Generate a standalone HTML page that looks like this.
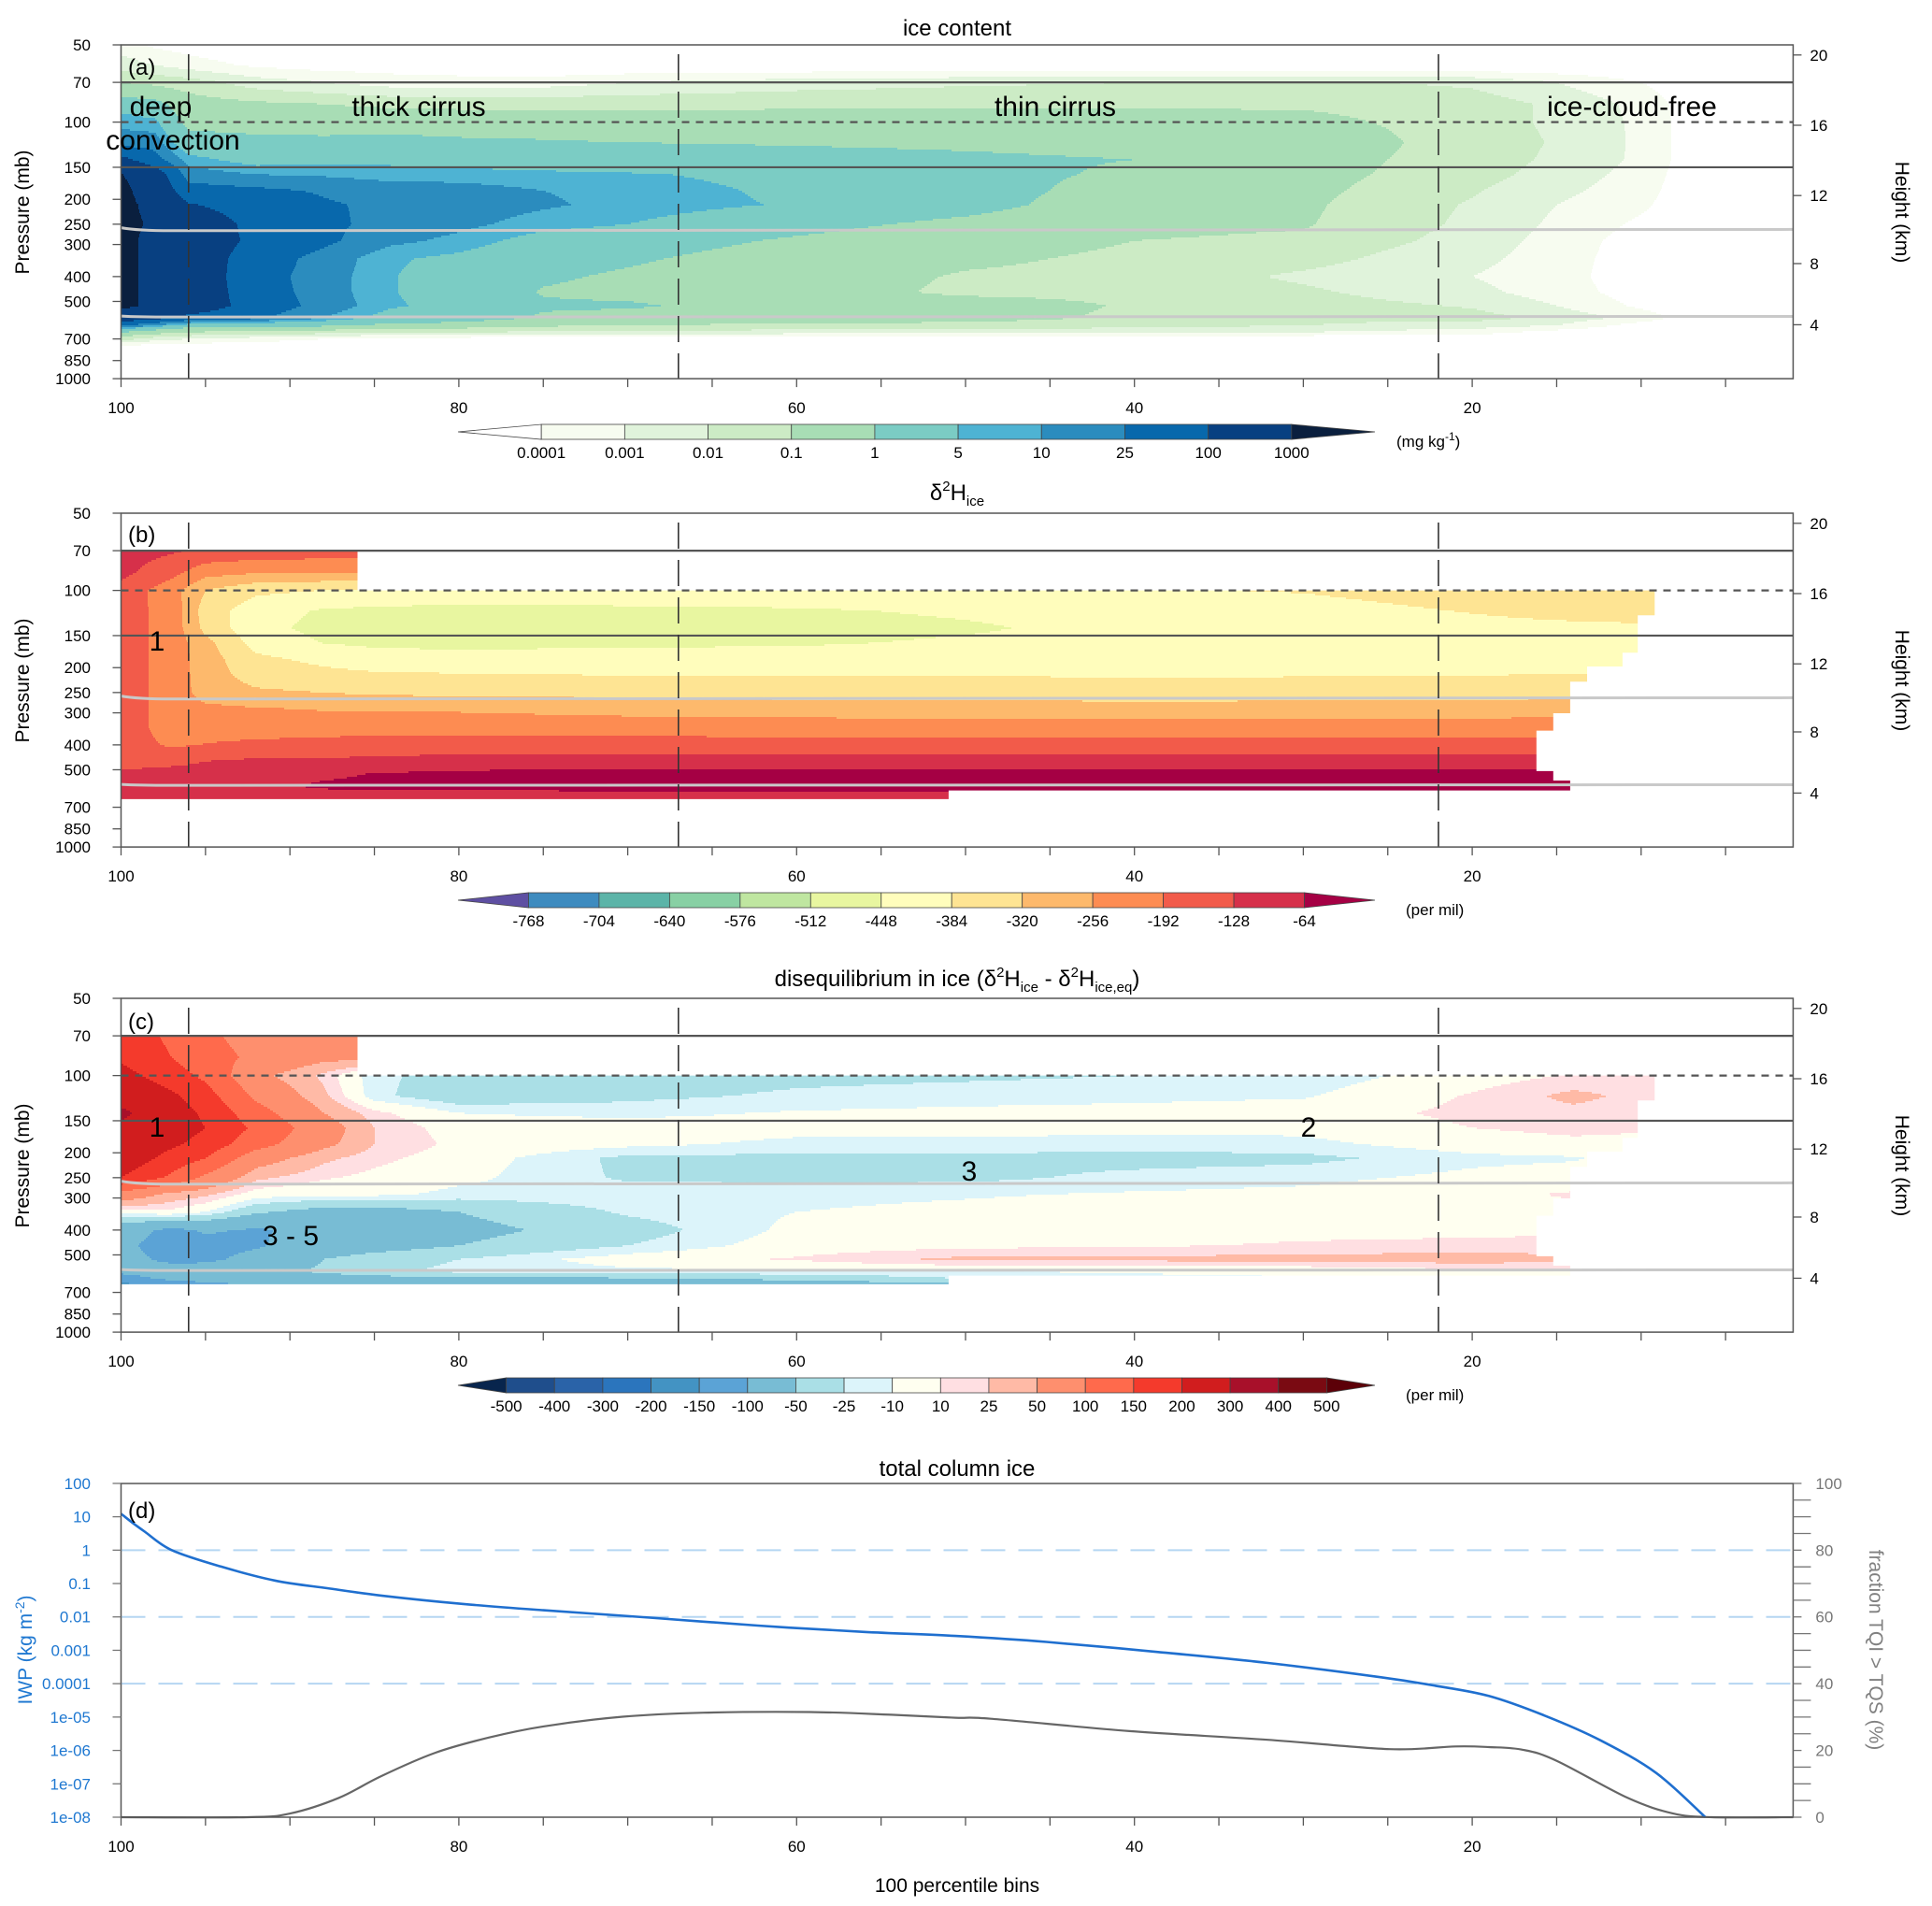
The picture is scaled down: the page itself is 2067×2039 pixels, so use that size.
<!DOCTYPE html>
<html><head><meta charset="utf-8">
<style>
html,body{margin:0;padding:0;background:#fff;}
svg{display:block;font-family:"Liberation Sans",Arial,sans-serif;}
</style></head>
<body>
<svg id="chart" width="2067" height="2039" viewBox="0 0 2067 2039" xmlns="http://www.w3.org/2000/svg">
<rect x="0" y="0" width="2067" height="2039" fill="#fff"/>
<g id="fields"></g>
<g id="overlay"></g>
<g font-size="24" text-anchor="middle" fill="#000">
  <text x="1024" y="38">ice content</text>
  <text x="1024" y="535">δ<tspan font-size="15" dy="-10">2</tspan><tspan dy="10">H</tspan><tspan font-size="15" dy="6">ice</tspan></text>
  <text x="1024" y="1055">disequilibrium in ice (δ<tspan font-size="15" dy="-10">2</tspan><tspan dy="10">H</tspan><tspan font-size="15" dy="6">ice</tspan><tspan dy="-6"> - δ</tspan><tspan font-size="15" dy="-10">2</tspan><tspan dy="10">H</tspan><tspan font-size="15" dy="6">ice,eq</tspan><tspan dy="-6">)</tspan></text>
  <text x="1024" y="1579">total column ice</text>
</g>
<g font-size="24" fill="#000">
  <text x="137" y="80">(a)</text>
  <text x="137" y="580">(b)</text>
  <text x="137" y="1101">(c)</text>
  <text x="137" y="1624">(d)</text>
</g>
<g font-size="30" text-anchor="middle" fill="#000">
  <text x="172" y="124">deep</text>
  <text x="185" y="160">convection</text>
  <text x="448" y="124">thick cirrus</text>
  <text x="1129" y="124">thin cirrus</text>
  <text x="1746" y="124">ice-cloud-free</text>
  <text x="168" y="696">1</text>
  <text x="168" y="1216">1</text>
  <text x="1400" y="1216">2</text>
  <text x="1037" y="1263">3</text>
  <text x="311" y="1332">3 - 5</text>
</g>
<g font-size="21" text-anchor="middle">
  <text transform="translate(31,227) rotate(-90)">Pressure (mb)</text>
  <text transform="translate(31,728) rotate(-90)">Pressure (mb)</text>
  <text transform="translate(31,1247) rotate(-90)">Pressure (mb)</text>
  <text transform="translate(2028,227) rotate(90)">Height (km)</text>
  <text transform="translate(2028,728) rotate(90)">Height (km)</text>
  <text transform="translate(2028,1247) rotate(90)">Height (km)</text>
  <text transform="translate(34,1765) rotate(-90)" fill="#1f78d1">IWP (kg m<tspan font-size="14" dy="-8">-2</tspan><tspan dy="8">)</tspan></text>
  <text transform="translate(2000,1765) rotate(90)" fill="#808080">fraction TQI &gt; TQS (%)</text>
  <text x="1024" y="2024">100 percentile bins</text>
</g>
<g font-size="17">
  <text x="1494" y="478">(mg kg<tspan font-size="12" dy="-7">-1</tspan><tspan dy="7">)</tspan></text>
  <text x="1504" y="979">(per mil)</text>
  <text x="1504" y="1498">(per mil)</text>
</g>
</svg>
<script>
// ---------------- data ----------------
const pTickLabels = [50,70,100,150,200,250,300,400,500,700,850,1000];
const kmTicks = [20,16,12,8,4];
const xTickLabels = [100,80,60,40,20];
const regimeBounds = [96,67,22];

// panel a: ice content (log10 mg/kg)
const aCols = [100,98,96,92,88,84,80,75,70,60,50,40,30,25,20,15,10,6,1];
const aRows = [50,60,70,85,100,120,140,160,185,210,250,290,340,400,460,520,580,620,660,700,760];
const aVals = [
[-3.5,-4.2,-4.5,-5,-5,-5,-5,-5,-5,-5,-5,-5,-5,-5,-5,-5,-5,-5,-5],
[-2.5,-3.0,-3.5,-4.2,-4.5,-4.5,-4.8,-5,-5,-5,-5,-5,-5,-5,-5,-5,-5,-5,-5],
[-1.0,-1.2,-1.5,-2.5,-3,-3.5,-3.5,-3.5,-3,-2.5,-2.2,-2,-2,-2,-2.2,-3,-4,-5,-5],
[0.5,0.3,-0.5,-0.8,-1,-1.2,-1.3,-1.3,-1.3,-1.2,-1.1,-1.1,-1.1,-1.2,-1.5,-2.2,-3.3,-5,-5],
[0.9,0.8,-0.2,-0.3,-0.4,-0.3,-0.3,-0.3,-0.4,-0.5,-0.6,-0.7,-0.8,-1.05,-1.5,-2.2,-3.2,-5,-5],
[1.2,1.2,0.3,0.2,0.2,0.2,0.1,0.05,0,-0.05,-0.1,-0.2,-0.5,-0.9,-1.4,-2.1,-3.2,-5,-5],
[2.2,1.6,0.85,0.5,0.6,0.6,0.5,0.4,0.3,0.2,0.1,0,-0.5,-1.0,-1.45,-2.2,-3.2,-5,-5],
[3.05,2.4,1.2,1.0,0.95,0.85,0.85,0.8,0.75,0.55,0.2,-0.1,-0.6,-1.1,-1.6,-2.4,-3.4,-5,-5],
[3.2,2.6,1.6,1.5,1.35,1.2,1.15,1.0,0.9,0.6,0.3,-0.3,-0.7,-1.3,-1.9,-2.7,-3.6,-5,-5],
[3.2,2.8,2.05,1.7,1.45,1.3,1.2,1.05,0.9,0.65,0.3,-0.5,-0.8,-1.5,-2.1,-3.0,-3.8,-5,-5],
[3.2,2.9,2.5,1.8,1.5,1.25,1.1,0.85,0.7,0.25,-0.2,-0.7,-0.9,-1.6,-2.2,-3.2,-4.2,-5,-5],
[3.2,2.8,2.5,1.85,1.5,1.1,0.9,0.5,0.35,-0.1,-0.5,-1.0,-1.2,-1.8,-2.4,-3.4,-4.5,-5,-5],
[3.2,2.8,2.5,1.65,1.25,0.75,0.6,0.3,0.1,-0.35,-0.8,-1.2,-1.6,-2.2,-2.7,-3.5,-4.6,-5,-5],
[3.2,2.8,2.5,1.6,1.2,0.72,0.5,0.1,-0.1,-0.45,-1.1,-1.3,-2.2,-2.6,-3.0,-3.6,-4.6,-5,-5],
[3.2,2.8,2.5,1.65,1.2,0.72,0.5,-0.05,-0.2,-0.5,-1.2,-1.2,-1.8,-2.3,-2.7,-3.5,-4.5,-5,-5],
[3.2,2.8,2.5,1.7,1.25,0.75,0.55,0.1,0.1,-0.4,-0.5,-1.1,-1.4,-1.8,-2.1,-3.0,-4.2,-5,-5],
[2.5,2.2,1.8,1.5,1.0,0.5,0.4,-0.1,-0.3,-0.5,-0.6,-1.2,-1.5,-1.7,-1.6,-2.3,-3.4,-5,-5],
[1.5,1.0,0.5,0.3,0.2,-0.2,-0.3,-0.8,-1.0,-1.2,-1.3,-1.6,-2.0,-2.3,-2.5,-3.0,-4.5,-5,-5],
[0,-0.5,-1,-1.5,-1.5,-2,-2,-2.2,-2.3,-2.5,-2.6,-2.8,-3.0,-3.3,-3.5,-4.5,-5,-5,-5],
[-1.5,-2.5,-3,-3.5,-4,-4.5,-4.5,-5,-5,-5,-5,-5,-5,-5,-5,-5,-5,-5,-5],
[-5,-5,-5,-5,-5,-5,-5,-5,-5,-5,-5,-5,-5,-5,-5,-5,-5,-5,-5]];
const aLevels = [-4,-3,-2,-1,0,0.699,1,1.398,2,3];
const aColors = ['#ffffff','#f7fcf0','#e0f3db','#ccebc5','#a8ddb5','#7bccc4','#4eb3d3','#2b8cbe','#0868ac','#084081','#0a1f3e'];
const aLabels = ['0.0001','0.001','0.01','0.1','1','5','10','25','100','1000'];

// panels b & c shared grid
const bcCols = [100,97,95,92,88,85,80,70,60,50,40,30,20,14,10];
const bcRows = [70,85,100,120,140,160,185,210,250,290,340,400,460,520,580,620,650];
const bVals = [
[-100,-120,-140,-150,-155,-155,-155,-155,-155,-155,-155,-155,-155,-155,-155],
[-110,-170,-230,-250,-255,-255,-255,-255,-255,-255,-255,-255,-255,-255,-255],
[-150,-230,-320,-370,-385,-400,-410,-410,-405,-395,-390,-380,-350,-340,-335],
[-165,-215,-350,-420,-455,-460,-465,-460,-455,-440,-420,-410,-380,-360,-355],
[-165,-215,-340,-430,-465,-475,-480,-475,-470,-455,-430,-420,-405,-400,-395],
[-165,-215,-300,-410,-450,-460,-465,-460,-455,-440,-430,-425,-410,-405,-400],
[-165,-215,-290,-370,-400,-420,-425,-420,-420,-415,-415,-410,-405,-400,-400],
[-165,-215,-290,-350,-370,-380,-385,-390,-390,-390,-395,-392,-390,-385,-385],
[-165,-215,-285,-310,-320,-330,-335,-340,-345,-345,-350,-348,-345,-340,-340],
[-165,-215,-240,-250,-260,-262,-265,-280,-285,-290,-295,-292,-290,-285,-285],
[-165,-215,-215,-220,-220,-220,-215,-220,-225,-228,-230,-228,-225,-222,-222],
[-165,-200,-190,-180,-170,-165,-165,-165,-168,-170,-170,-170,-168,-165,-165],
[-165,-150,-130,-120,-120,-115,-105,-100,-100,-105,-105,-105,-100,-100,-100],
[-110,-100,-100,-100,-80,-60,-50,-40,-40,-40,-40,-40,-40,-40,-40],
[-100,-90,-95,-90,-50,-45,-45,-40,-40,-40,-40,-40,-35,-35,-35],
[-110,-100,-100,-100,-90,-90,-90,-70,-70,-70,-60,-50,-50,-50,-50],
[-120,-110,-110,-110,-110,-110,-110,-100,-100,-100,-100,-100,-100,-100,-100]];
const bLevels = [-768,-704,-640,-576,-512,-448,-384,-320,-256,-192,-128,-64];
const bColors = ['#5e4fa2','#3e8bbf','#5cb4a8','#88d0a4','#bfe6a0','#e8f6a0','#fffdbc','#fee493','#fdb96c','#fd8c52','#f25b4a','#d6304a','#a50044'];
const bLabels = ['-768','-704','-640','-576','-512','-448','-384','-320','-256','-192','-128','-64'];

const cVals = [
[180,140,110,80,50,50,50,50,50,50,50,50,50,50,50],
[190,150,120,90,60,60,60,60,60,60,60,60,60,60,60],
[220,170,140,60,20,-20,-35,-35,-30,-28,-25,-20,0,12,12],
[260,210,170,90,30,-20,-40,-30,-22,-18,-15,-12,12,30,20],
[320,230,190,120,50,15,-10,-15,-8,-5,-3,0,15,20,15],
[280,230,200,140,70,25,0,0,-3,-3,-5,-5,10,15,12],
[250,210,180,120,60,25,5,-5,-15,-15,-18,-15,0,5,5],
[240,180,150,70,30,15,0,-30,-30,-30,-32,-30,-15,-12,0],
[200,140,90,30,12,5,-5,-28,-30,-30,-20,-15,-5,0,0],
[80,40,30,0,-5,-5,-15,-15,-15,-12,-8,-5,5,12,5],
[0,5,-10,-45,-65,-65,-50,-22,-10,-5,0,0,5,5,5],
[-80,-110,-95,-105,-85,-75,-60,-35,-5,0,3,5,5,8,5],
[-90,-120,-115,-105,-75,-65,-50,-25,0,5,8,12,15,15,10],
[-85,-110,-110,-85,-50,-35,-25,0,12,30,30,32,35,30,20],
[-90,-80,-75,-60,-45,-30,-20,-15,-12,-10,-8,-5,5,5,5],
[-120,-90,-80,-75,-70,-65,-60,-55,-45,-25,-15,-12,-12,-12,-12],
[-160,-130,-110,-95,-85,-80,-75,-70,-65,-60,-30,-30,-30,-30,-30]];
const cLevels = [-500,-400,-300,-200,-150,-100,-50,-25,-10,10,25,50,100,150,200,300,400,500];
const cColors = ['#08254d','#1f4e8c','#2a63a8','#2b75bd','#4393c3','#5ba3d6','#78bcd4','#aadfe6','#dcf4fa','#fffff0','#ffdfe2','#ffbaa6','#fe8f6e','#ff6a4c','#f43a2c','#d11d1e','#a8102a','#7a0a12','#5c0008'];
const cLabels = ['-500','-400','-300','-200','-150','-100','-50','-25','-10','10','25','50','100','150','200','300','400','500'];

// data-coverage outline for b & c (percentile, pressure)
const maskX = [100,86,86,9.2,9.2,10.2,10.2,11.1,11.1,13.2,13.2,14.2,14.2,15.2,15.2,16.2,16.2,15.2,15.2,14.2,14.2,51,51,100];
const maskP = [70,70,100,100,125,125,175,175,198,198,227,227,301,301,352,352,506,506,551,551,602,602,651,651];

// panel d
const iwpX = [100,99.3,98.6,97,94.1,90.9,87.8,84.6,79.8,75,68.7,62.3,56,50.6,45.2,38.6,32.1,25.5,22.2,19,15.7,12.4,9.1,6.2];
const iwpVal = [12.3,6.5,3.6,1.0,0.324,0.123,0.0724,0.0437,0.0245,0.0158,0.00955,0.0055,0.00355,0.00269,0.00178,0.00089,0.000417,0.000158,8.7e-5,4.27e-5,1.1e-5,2.0e-6,2.1e-7,1e-8];
const fracX = [100,92.5,90,87.1,84.6,81.4,78.2,75,70.3,65.5,59.2,54.4,50.6,48.5,40.3,32.1,24.9,21,19,17,15,10.8,8.1,5.8,1];
const fracVal = [0,0,1.1,5.8,12.3,19.3,23.9,27.2,30.1,31.3,31.5,30.7,29.8,29.5,25.8,23.2,20.4,21.2,21,20.2,16.9,5.8,1.1,0,0];
const iwpTickLabels = ['1e-08','1e-07','1e-06','1e-05','0.0001','0.001','0.01','0.1','1','10','100'];
const fracTickLabels = [0,20,40,60,80,100];
const iwpRefLines = [1,0.01,0.0001];

// ---------------- geometry ----------------
const NS = 'http://www.w3.org/2000/svg';
const svg = document.getElementById('chart');
const fieldsG = document.getElementById('fields');
const overG = document.getElementById('overlay');
const X0 = 129.5, XS = 18.07, PH = 357.1;
const XR = X0 + 99*XS;
const panelTops = [48, 549, 1068];
const dTop = 1587, dBot = 1944;
function xS(v){ return X0 + (100 - v)*XS; }
function yP(p, top){ return top + 119.2*Math.log(p/50); }
function yIwp(v){ return dBot - (Math.log10(v) + 8)*35.71; }
function yFrac(v){ return dBot - v*3.571; }
function zToP(km){ const z = km*1000; return z < 11000 ? 1013.25*Math.pow(1 - 2.25577e-5*z, 5.25588) : 226.32*Math.exp(-(z - 11000)/6341.6); }
function mk(tag, attrs, parent){
  const e = document.createElementNS(NS, tag);
  for (const k in attrs) e.setAttribute(k, attrs[k]);
  (parent || svg).appendChild(e);
  return e;
}
function interp(cols, rows, vals, x, p){
  const nc = cols.length, nr = rows.length;
  let i, tx;
  if (x >= cols[0]) { i = 0; tx = 0; }
  else if (x <= cols[nc-1]) { i = nc-2; tx = 1; }
  else { i = 0; while (!(cols[i] >= x && x >= cols[i+1])) i++; tx = (cols[i]-x)/(cols[i]-cols[i+1]); }
  let j, ty;
  if (p <= rows[0]) { j = 0; ty = 0; }
  else if (p >= rows[nr-1]) { j = nr-2; ty = 1; }
  else { j = 0; while (!(rows[j] <= p && p <= rows[j+1])) j++; ty = Math.log(p/rows[j])/Math.log(rows[j+1]/rows[j]); }
  const v00 = vals[j][i], v01 = vals[j][i+1], v10 = vals[j+1][i], v11 = vals[j+1][i+1];
  return (v00*(1-tx) + v01*tx)*(1-ty) + (v10*(1-tx) + v11*tx)*ty;
}
function classify(v, levels){ let k = 0; while (k < levels.length && v >= levels[k]) k++; return k; }

function drawField(name, top, cols, rows, vals, levels, colors, clipId, skipWhite){
  const g = mk('g', {'shape-rendering':'crispEdges'}, fieldsG);
  
  
  if (clipId) g.setAttribute('clip-path', 'url(#' + clipId + ')');
  const pxStart = Math.floor(X0), pxEnd = Math.ceil(XR);
  for (let y = top; y < top + PH; y += 2) {
    const p = 50*Math.exp((y + 1 - top)/119.2);
    let runStart = pxStart, runCls = -1;
    const flush = (xe) => {
      if (runCls < 0 || (skipWhite && runCls === 0)) return;
      const r = mk('rect', {x: runStart, y: y, width: xe - runStart, height: 2.05, fill: colors[runCls]}, g);
      
      
    };
    for (let px = pxStart; px < pxEnd; px++) {
      const x = 100 - (px + 0.5 - X0)/XS;
      const c = classify(interp(cols, rows, vals, x, p), levels);
      if (c !== runCls) { flush(px); runStart = px; runCls = c; }
    }
    flush(pxEnd);
  }
}

const defs = mk('defs', {});


function makeClip(id, top, useMask){
  const cp = mk('clipPath', {id: id}, defs);
  
  
  if (useMask) {
    const pts = maskX.map((v, i) => xS(v).toFixed(1) + ',' + yP(maskP[i], top).toFixed(1)).join(' ');
    const pg = mk('polygon', {points: pts}, cp);
    
    
  } else {
    const r = mk('rect', {x: X0, y: top, width: XR - X0, height: PH}, cp);
    
    
  }
}
makeClip('clipA', panelTops[0], false);
makeClip('clipB', panelTops[1], true);
makeClip('clipC', panelTops[2], true);

drawField('ice-content-field', panelTops[0], aCols, aRows, aVals, aLevels, aColors, 'clipA', true);
drawField('d2h-ice-field', panelTops[1], bcCols, bcRows, bVals, bLevels, bColors, 'clipB', false);
drawField('disequilibrium-field', panelTops[2], bcCols, bcRows, cVals, cLevels, cColors, 'clipC', false);

const panelNames = ['a','b','c'];
panelTops.forEach((top, idx) => {
  const nm = panelNames[idx];
  const bot = top + PH;
  [[258,265],[570,575]].forEach((pp, k) => {
    const d = 'M' + xS(100) + ',' + yP(pp[0], top) + ' Q' + xS(99) + ',' + yP(pp[1], top) + ' ' + xS(97) + ',' + yP(pp[1], top) + ' L' + XR + ',' + yP(pp[1] - 3, top);
    const l = mk('path', {d: d, stroke: '#c9c9c9', 'stroke-width': 3, fill: 'none'}, overG);
    
    
  });
  [[70,''],[100,'8,7'],[150,'']].forEach((h) => {
    const l = mk('line', {x1: X0, x2: XR, y1: yP(h[0], top), y2: yP(h[0], top), stroke: '#555', 'stroke-width': 2.2}, overG);
    if (h[1]) l.setAttribute('stroke-dasharray', h[1]);
    
    
  });
  regimeBounds.forEach((v) => {
    const l = mk('line', {x1: xS(v), x2: xS(v), y1: top + 10, y2: bot, stroke: '#333', 'stroke-width': 1.6, 'stroke-dasharray': '28,12'}, overG);
    
    
  });
  const fr = mk('rect', {x: X0, y: top, width: XR - X0, height: PH, fill: 'none', stroke: '#555', 'stroke-width': 1.5}, overG);
  
  
  pTickLabels.forEach((p) => {
    const y = yP(p, top);
    const t = mk('line', {x1: X0 - 9, x2: X0, y1: y, y2: y, stroke: '#555', 'stroke-width': 1.3}, overG);
    
    
    const tx = mk('text', {x: 97, y: y + 6, 'font-size': 17, 'text-anchor': 'end'}, overG);
    tx.textContent = p;
    
    
  });
  kmTicks.forEach((km) => {
    const y = yP(zToP(km), top);
    const t = mk('line', {x1: XR, x2: XR + 9, y1: y, y2: y, stroke: '#555', 'stroke-width': 1.3}, overG);
    
    
    const tx = mk('text', {x: XR + 18, y: y + 6, 'font-size': 17}, overG);
    tx.textContent = km;
    
    
  });
});

[panelTops[0] + PH, panelTops[1] + PH, panelTops[2] + PH, dBot].forEach((bot) => {
  for (let v = 100; v >= 5; v -= 5) {
    const t = mk('line', {x1: xS(v), x2: xS(v), y1: bot, y2: bot + 9, stroke: '#555', 'stroke-width': 1.3}, overG);
    
    
  }
  xTickLabels.forEach((v) => {
    const tx = mk('text', {x: xS(v), y: bot + 37, 'font-size': 17, 'text-anchor': 'middle'}, overG);
    tx.textContent = v;
    
    
  });
});

function drawColorbar(name, y, labels, colors){
  const x0 = 490, x1 = 1471, h = 16;
  const n = colors.length;
  const w = (x1 - x0)/n;
  const g = mk('g', {}, overG);
  
  
  const lt = mk('polygon', {points: x0 + ',' + (y + h/2) + ' ' + (x0 + w) + ',' + y + ' ' + (x0 + w) + ',' + (y + h), fill: colors[0], stroke: '#444', 'stroke-width': 0.8}, g);
  
  
  for (let i = 1; i < n - 1; i++) {
    const r = mk('rect', {x: x0 + i*w, y: y, width: w, height: h, fill: colors[i], stroke: '#444', 'stroke-width': 0.8}, g);
    
    
  }
  const rt = mk('polygon', {points: x1 + ',' + (y + h/2) + ' ' + (x1 - w) + ',' + y + ' ' + (x1 - w) + ',' + (y + h), fill: colors[n-1], stroke: '#444', 'stroke-width': 0.8}, g);
  
  
  labels.forEach((lb, i) => {
    const tx = mk('text', {x: x0 + (i + 1)*w, y: y + h + 20, 'font-size': 17, 'text-anchor': 'middle'}, g);
    tx.textContent = lb;
    
    
  });
}
drawColorbar('colorbar-ice-content', 454, aLabels, aColors);
drawColorbar('colorbar-d2h', 955, bLabels, bColors);
drawColorbar('colorbar-disequilibrium', 1474, cLabels, cColors);

function smoothPath(xs, ys){
  const pts = xs.map((v, i) => [xS(v), ys[i]]);
  let d = 'M' + pts[0][0].toFixed(1) + ',' + pts[0][1].toFixed(1);
  for (let i = 0; i < pts.length - 1; i++) {
    const p0 = pts[Math.max(0, i-1)], p1 = pts[i], p2 = pts[i+1], p3 = pts[Math.min(pts.length-1, i+2)];
    const c1 = [p1[0] + (p2[0]-p0[0])/6, p1[1] + (p2[1]-p0[1])/6];
    const c2 = [p2[0] - (p3[0]-p1[0])/6, p2[1] - (p3[1]-p1[1])/6];
    d += ' C' + c1[0].toFixed(1) + ',' + c1[1].toFixed(1) + ' ' + c2[0].toFixed(1) + ',' + c2[1].toFixed(1) + ' ' + p2[0].toFixed(1) + ',' + p2[1].toFixed(1);
  }
  return d;
}
iwpRefLines.forEach((v) => {
  const l = mk('line', {x1: X0, x2: XR, y1: yIwp(v), y2: yIwp(v), stroke: '#b5d6f2', 'stroke-width': 2, 'stroke-dasharray': '26,14'}, overG);
  
  
});
const fracPath = mk('path', {d: smoothPath(fracX, fracVal.map(yFrac)), stroke: '#666', 'stroke-width': 2.2, fill: 'none'}, overG);


const iwpPath = mk('path', {d: smoothPath(iwpX, iwpVal.map(yIwp)), stroke: '#1f6fcf', 'stroke-width': 2.6, fill: 'none'}, overG);


const dFrame = mk('rect', {x: X0, y: dTop, width: XR - X0, height: dBot - dTop, fill: 'none', stroke: '#555', 'stroke-width': 1.5}, overG);


iwpTickLabels.forEach((lb, i) => {
  const y = dBot - i*35.71;
  const t = mk('line', {x1: X0 - 9, x2: X0, y1: y, y2: y, stroke: '#777', 'stroke-width': 1.3}, overG);
  
  
  const tx = mk('text', {x: 97, y: y + 6, 'font-size': 17, 'text-anchor': 'end', fill: '#1f78d1'}, overG);
  tx.textContent = lb;
  
  
});
for (let v = 0; v <= 100; v += 5) {
  const major = v % 20 === 0;
  const t = mk('line', {x1: XR, x2: XR + (major ? 9 : 19), y1: yFrac(v), y2: yFrac(v), stroke: '#777', 'stroke-width': 1.3}, overG);
  
  
}
fracTickLabels.forEach((v) => {
  const tx = mk('text', {x: XR + 24, y: yFrac(v) + 6, 'font-size': 17, fill: '#777'}, overG);
  tx.textContent = v;
  
  
});
</script>
</body></html>
